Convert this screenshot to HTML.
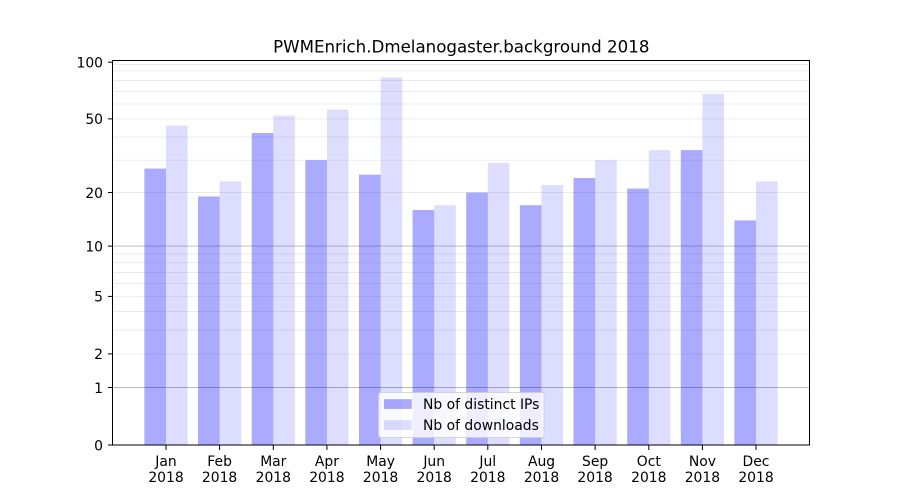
<!DOCTYPE html>
<html>
<head>
<meta charset="utf-8">
<style>
  html, body { margin: 0; padding: 0; background: #ffffff; }
  svg { display: block; }
  text { font-family: "DejaVu Sans", "Liberation Sans", sans-serif; fill: #000; }
</style>
</head>
<body>
<svg width="900" height="500" viewBox="0 0 900 500" xmlns="http://www.w3.org/2000/svg">
  <rect x="0" y="0" width="900" height="500" fill="#ffffff"/>

  <!-- minor grid -->
  <g stroke="#ebebeb" stroke-width="0.9">
    <line x1="112.5" x2="810" y1="353.9" y2="353.9"/>
    <line x1="112.5" x2="810" y1="330.0" y2="330.0"/>
    <line x1="112.5" x2="810" y1="311.5" y2="311.5"/>
    <line x1="112.5" x2="810" y1="296.4" y2="296.4"/>
    <line x1="112.5" x2="810" y1="283.6" y2="283.6"/>
    <line x1="112.5" x2="810" y1="272.5" y2="272.5"/>
    <line x1="112.5" x2="810" y1="262.7" y2="262.7"/>
    <line x1="112.5" x2="810" y1="254.0" y2="254.0"/>
    <line x1="112.5" x2="810" y1="192.5" y2="192.5"/>
    <line x1="112.5" x2="810" y1="160.2" y2="160.2"/>
    <line x1="112.5" x2="810" y1="137.0" y2="137.0"/>
    <line x1="112.5" x2="810" y1="118.9" y2="118.9"/>
    <line x1="112.5" x2="810" y1="104.0" y2="104.0"/>
    <line x1="112.5" x2="810" y1="91.4" y2="91.4"/>
    <line x1="112.5" x2="810" y1="80.5" y2="80.5"/>
    <line x1="112.5" x2="810" y1="70.8" y2="70.8"/>
    <line x1="112.5" x2="810" y1="64.5" y2="64.5"/>
  </g>
  <!-- major grid -->
  <g stroke="#b8b8b8" stroke-width="0.9">
    <line x1="112.5" x2="810" y1="387.5" y2="387.5"/>
    <line x1="112.5" x2="810" y1="246.1" y2="246.1"/>
  </g>

  <!-- bars -->
  <g fill="rgba(0,0,255,0.333)">
    <rect x="144.4" y="168.6" width="21.6" height="276.4"/>
    <rect x="198.0" y="196.5" width="21.6" height="248.5"/>
    <rect x="251.7" y="133.0" width="21.6" height="312.0"/>
    <rect x="305.3" y="160.2" width="21.6" height="284.8"/>
    <rect x="359.0" y="174.7" width="21.6" height="270.3"/>
    <rect x="412.6" y="210.0" width="21.6" height="235.0"/>
    <rect x="466.2" y="192.5" width="21.6" height="252.5"/>
    <rect x="519.9" y="205.2" width="21.6" height="239.8"/>
    <rect x="573.5" y="178.0" width="21.6" height="267.0"/>
    <rect x="627.2" y="188.6" width="21.6" height="256.4"/>
    <rect x="680.8" y="150.1" width="21.6" height="294.9"/>
    <rect x="734.4" y="220.4" width="21.6" height="224.6"/>
  </g>
  <g fill="rgba(0,0,255,0.133)">
    <rect x="166.0" y="125.6" width="21.6" height="319.4"/>
    <rect x="219.6" y="181.4" width="21.6" height="263.6"/>
    <rect x="273.3" y="115.7" width="21.6" height="329.3"/>
    <rect x="326.9" y="109.6" width="21.6" height="335.4"/>
    <rect x="380.6" y="77.5" width="21.6" height="367.5"/>
    <rect x="434.2" y="205.2" width="21.6" height="239.8"/>
    <rect x="487.8" y="162.9" width="21.6" height="282.1"/>
    <rect x="541.5" y="184.9" width="21.6" height="260.1"/>
    <rect x="595.1" y="160.2" width="21.6" height="284.8"/>
    <rect x="648.8" y="150.1" width="21.6" height="294.9"/>
    <rect x="702.4" y="93.8" width="21.6" height="351.2"/>
    <rect x="756.0" y="181.4" width="21.6" height="263.6"/>
  </g>

  <!-- axes frame -->
  <rect x="112.5" y="60.5" width="697" height="384.5" fill="none" stroke="#000" stroke-width="1"/>

  <!-- y ticks -->
  <g stroke="#000" stroke-width="1">
    <line x1="108" x2="112.5" y1="445" y2="445"/>
    <line x1="108" x2="112.5" y1="387.5" y2="387.5"/>
    <line x1="108" x2="112.5" y1="353.9" y2="353.9"/>
    <line x1="108" x2="112.5" y1="296.4" y2="296.4"/>
    <line x1="108" x2="112.5" y1="246.1" y2="246.1"/>
    <line x1="108" x2="112.5" y1="192.5" y2="192.5"/>
    <line x1="108" x2="112.5" y1="118.9" y2="118.9"/>
    <line x1="108" x2="112.5" y1="62.2" y2="62.2"/>
  </g>
  <g font-size="13.9" text-anchor="end">
    <text x="103" y="450.3">0</text>
    <text x="103" y="392.8">1</text>
    <text x="103" y="359.2">2</text>
    <text x="103" y="301.7">5</text>
    <text x="103" y="251.4">10</text>
    <text x="103" y="197.8">20</text>
    <text x="103" y="124.2">50</text>
    <text x="103" y="67.5">100</text>
  </g>

  <!-- x ticks -->
  <g stroke="#000" stroke-width="1">
    <line x1="166.0" x2="166.0" y1="445" y2="450"/>
    <line x1="219.6" x2="219.6" y1="445" y2="450"/>
    <line x1="273.3" x2="273.3" y1="445" y2="450"/>
    <line x1="326.9" x2="326.9" y1="445" y2="450"/>
    <line x1="380.6" x2="380.6" y1="445" y2="450"/>
    <line x1="434.2" x2="434.2" y1="445" y2="450"/>
    <line x1="487.8" x2="487.8" y1="445" y2="450"/>
    <line x1="541.5" x2="541.5" y1="445" y2="450"/>
    <line x1="595.1" x2="595.1" y1="445" y2="450"/>
    <line x1="648.8" x2="648.8" y1="445" y2="450"/>
    <line x1="702.4" x2="702.4" y1="445" y2="450"/>
    <line x1="756.0" x2="756.0" y1="445" y2="450"/>
  </g>
  <g font-size="13.9" text-anchor="middle">
    <text x="166.0" y="466">Jan</text><text x="166.0" y="482">2018</text>
    <text x="219.6" y="466">Feb</text><text x="219.6" y="482">2018</text>
    <text x="273.3" y="466">Mar</text><text x="273.3" y="482">2018</text>
    <text x="326.9" y="466">Apr</text><text x="326.9" y="482">2018</text>
    <text x="380.6" y="466">May</text><text x="380.6" y="482">2018</text>
    <text x="434.2" y="466">Jun</text><text x="434.2" y="482">2018</text>
    <text x="487.8" y="466">Jul</text><text x="487.8" y="482">2018</text>
    <text x="541.5" y="466">Aug</text><text x="541.5" y="482">2018</text>
    <text x="595.1" y="466">Sep</text><text x="595.1" y="482">2018</text>
    <text x="648.8" y="466">Oct</text><text x="648.8" y="482">2018</text>
    <text x="702.4" y="466">Nov</text><text x="702.4" y="482">2018</text>
    <text x="756.0" y="466">Dec</text><text x="756.0" y="482">2018</text>
  </g>

  <!-- title -->
  <text x="461.25" y="52.7" font-size="16.67" text-anchor="middle">PWMEnrich.Dmelanogaster.background 2018</text>

  <!-- legend -->
  <rect x="378.5" y="392.5" width="165.5" height="45" rx="2.5" ry="2.5" fill="rgba(255,255,255,0.8)" stroke="rgba(204,204,204,0.8)" stroke-width="1"/>
  <rect x="384" y="399.2" width="27.8" height="9.7" fill="rgba(0,0,255,0.333)"/>
  <rect x="384" y="420.2" width="27.8" height="9.7" fill="rgba(0,0,255,0.133)"/>
  <text x="423" y="409" font-size="13.9">Nb of distinct IPs</text>
  <text x="423" y="430" font-size="13.9">Nb of downloads</text>
</svg>
</body>
</html>
